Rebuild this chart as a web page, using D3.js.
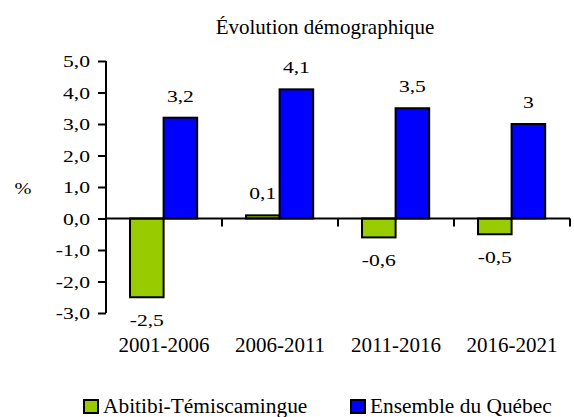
<!DOCTYPE html>
<html>
<head>
<meta charset="utf-8">
<script src="https://cdn.jsdelivr.net/npm/d3@7"></script>
<style>
  body { margin: 0; background: #fff; }
  svg text { font-family: "Liberation Serif", serif !important; fill: #000; }
</style>
</head>
<body>
<svg id="chart" width="574" height="417"></svg>
<script>
// Data
const periods = ["2001-2006", "2006-2011", "2011-2016", "2016-2021"];
const seriesNames = ["Abitibi-Témiscamingue", "Ensemble du Québec"];
const abitibi = [-2.5, 0.1, -0.6, -0.5];
const quebec = [3.2, 4.1, 3.5, 3];
const yTicks = [-3, -2, -1, 0, 1, 2, 3, 4, 5];
const colors = ["#99cc00", "#0000ff"];

const FONT = "'Liberation Serif', serif";
const svg = d3.select("#chart");

const rows = periods.map((p, i) => ({ period: p, values: [abitibi[i], quebec[i]] }));

const x = d3.scaleBand().domain(periods).range([106, 570]);
const bw = x.bandwidth();
const x1 = d3.scaleBand().domain(seriesNames).range([bw * 0.207, bw * 0.786]);
const y = d3.scaleLinear().domain([-3, 5]).range([313, 61]);

const fmt = v => String(v).replace(".", ",");

// stretched text helper (the labels are wider than the plain font)
function stext(g, x, y, s, sx, size, anchor) {
  return g.append("text")
    .attr("transform", `translate(${x},${y}) scale(${sx},1)`)
    .attr("text-anchor", anchor)
    .attr("font-family", FONT)
    .attr("font-size", size)
    .text(s);
}

// title
svg.append("text")
  .attr("x", 325).attr("y", 34)
  .attr("text-anchor", "middle")
  .attr("font-family", FONT)
  .attr("font-size", 21)
  .text("Évolution démographique");

// % label
stext(svg, 23, 194, "%", 1.2, 17, "middle");

// bars
const groups = svg.selectAll("g.grp")
  .data(rows)
  .enter().append("g")
  .attr("class", "grp")
  .attr("transform", d => `translate(${x(d.period)},0)`);

groups.selectAll("rect")
  .data(d => d.values.map((v, i) => ({ v, i })))
  .enter().append("rect")
  .attr("x", d => x1(seriesNames[d.i]))
  .attr("width", x1.bandwidth())
  .attr("y", d => y(Math.max(0, d.v)))
  .attr("height", d => Math.abs(y(d.v) - y(0)))
  .attr("fill", d => colors[d.i])
  .attr("stroke", "#000")
  .attr("stroke-width", 2);

// value labels
groups.each(function(d) {
  const g = d3.select(this);
  d.values.forEach((v, i) => {
    const cx = x1(seriesNames[i]) + x1.bandwidth() / 2;
    const ty = v >= 0 ? y(v) - 16 : y(v) + 28.5;
    stext(g, cx, ty, fmt(v), 1.35, 16, "middle");
  });
});

// y axis
const yAxis = svg.append("g")
  .attr("transform", "translate(106,0)")
  .call(d3.axisLeft(y).tickValues(yTicks).tickSize(8).tickFormat(d => d.toFixed(1).replace(".", ",")))
  .attr("font-family", FONT);
yAxis.select(".domain").attr("stroke-width", 2).attr("d", `M0,${y(-3)}V${y(5)}`);
yAxis.selectAll(".tick line").attr("stroke-width", 2);
yAxis.selectAll(".tick text")
  .attr("x", null).attr("dy", null)
  .attr("transform", "translate(-16,5.5) scale(1.35,1)")
  .attr("font-family", FONT)
  .attr("font-size", 16);

// x axis line
svg.append("line")
  .attr("x1", 106).attr("x2", 570)
  .attr("y1", y(0)).attr("y2", y(0))
  .attr("stroke", "#000").attr("stroke-width", 2);

svg.selectAll("line.xtick")
  .data(periods)
  .enter().append("line")
  .attr("class", "xtick")
  .attr("x1", d => x(d) + bw).attr("x2", d => x(d) + bw)
  .attr("y1", y(0)).attr("y2", y(0) + 8)
  .attr("stroke", "#000").attr("stroke-width", 2);

// category labels
svg.selectAll("text.cat")
  .data(periods)
  .enter().append("text")
  .attr("class", "cat")
  .attr("x", d => x(d) + bw / 2)
  .attr("y", 352)
  .attr("text-anchor", "middle")
  .attr("font-family", FONT)
  .attr("font-size", 21)
  .text(d => d);

// legend
const legendX = [84, 351];
seriesNames.forEach((name, i) => {
  svg.append("rect")
    .attr("x", legendX[i]).attr("y", 400)
    .attr("width", 14).attr("height", 13)
    .attr("fill", colors[i])
    .attr("stroke", "#000").attr("stroke-width", 2);
  stext(svg, legendX[i] + 19, 413, name, 1.07, 20, "start");
});
</script>
</body>
</html>
